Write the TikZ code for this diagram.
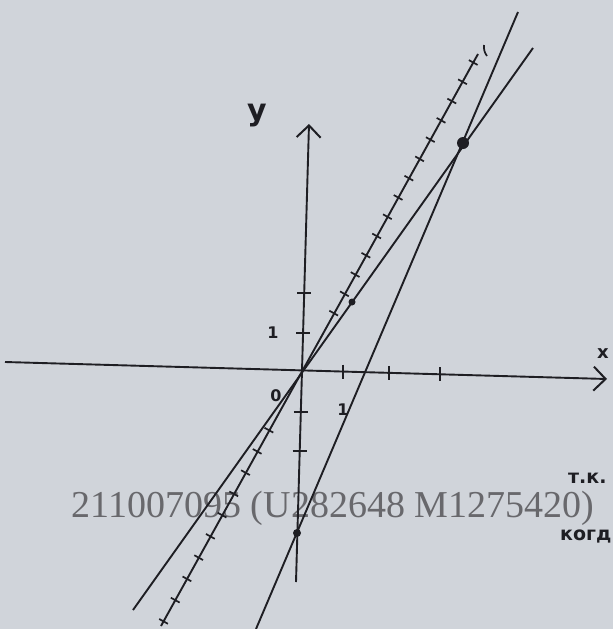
\documentclass[tikz,border=0pt]{standalone}
\usepackage{fontspec}
\setmainfont{Liberation Serif}
\newfontfamily\mano{DejaVu Sans}
\usetikzlibrary{arrows.meta,calc}
\definecolor{papel}{RGB}{208,212,218}
\definecolor{tinta}{RGB}{30,30,35}
\definecolor{sello}{RGB}{104,104,108}
\begin{document}
\begin{tikzpicture}[x=1pt, y=-1pt,
    eje/.style={draw=tinta, line width=1.9pt, -{Straight Barb[length=12pt, width=24pt, line width=2pt]}},
    recta/.style={draw=tinta, line width=1.9pt},
    marca/.style={draw=tinta, line width=1.7pt},
    punto/.style={circle, fill=tinta, inner sep=0pt, minimum size=#1},
    rotulo/.style={text=tinta, inner sep=0pt, font=\mano\bfseries\fontsize{#1}{#1}\selectfont}
  ]
  \fill[papel] (0,0) rectangle (613,629);
  \useasboundingbox (0,0) rectangle (613,629);

  \coordinate (xizq) at (5,362);
  \coordinate (xder) at (607,379);
  \coordinate (yabj) at (296,582);
  \coordinate (yarr) at (309,124);
  \coordinate (o) at (302,370);
  \coordinate (atop) at (478,54);
  \coordinate (abot) at (161,626);
  \coordinate (btop) at (533,48);
  \coordinate (bbot) at (133,610);
  \coordinate (ctop) at (518,12);
  \coordinate (cbot) at (256,629);

  \node (sello) [text=sello, anchor=base, font=\fontsize{38}{38}\selectfont] at (333,517) {211007095 (U282648 M1275420)};

  \draw [eje] (xizq) -- (xder);
  \draw [eje] (yabj) -- (yarr);
  \foreach \t in {0.286,0.371,0.544,0.631}
    \draw [marca] ($(yabj)!\t!(yarr)$) ++(-7,0) -- ++(14,0);
  \foreach \t in {0.561,0.638,0.723}
    \draw [marca] ($(xizq)!\t!(xder)$) ++(0,-7) -- ++(0,14);

  \draw [recta] (bbot) -- (btop);
  \draw [recta] (cbot) -- (ctop);
  \draw [recta] (abot) -- (atop);
  \foreach \t in {0.18,0.241,...,0.98}
    \draw [marca] ($(o)!\t!(atop)!5pt!90:(atop)$) -- ($(o)!\t!(atop)!5pt!-90:(atop)$);
  \foreach \t in {0.235,0.318,...,0.99}
    \draw [marca] ($(o)!\t!(abot)!5pt!90:(abot)$) -- ($(o)!\t!(abot)!5pt!-90:(abot)$);
  \draw [marca] (484,45) to[bend right=20] (487,56);

  \node (p) [punto=12pt] at (463,143) {};
  \node (q) [punto=7pt] at (352,302) {};
  \node (r) [punto=8pt] at (297,533) {};

  \node (ly) [rotulo=30] at (257,116) {y};
  \node (lx) [rotulo=18] at (603,354) {x};
  \node (l1y) [rotulo=16] at (273,333) {1};
  \node (l1x) [rotulo=16] at (343,410) {1};
  \node (l0) [rotulo=16] at (276,396) {0};
  \node (tk) [rotulo=19, anchor=base west] at (568,483) {т.к.};
  \node (kogd) [rotulo=19, anchor=base west] at (560,540) {когд};
\end{tikzpicture}
\end{document}
